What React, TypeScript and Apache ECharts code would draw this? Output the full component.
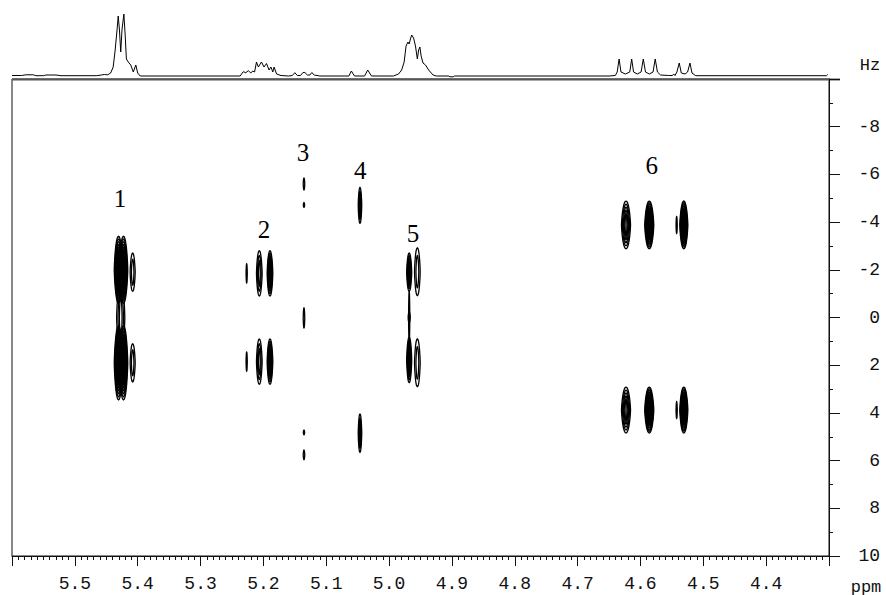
import React, { useEffect, useRef } from "react";
import * as echarts from "echarts";

// ---- axis ranges (ppm descending left→right, Hz -10 at top) ----
const PPM_MIN = 4.3;
const PPM_MAX = 5.6;
const HZ_MIN = -10;
const HZ_MAX = 10;

// ---- 1D projection spectrum on top: [ppm, intensity] ----
const spectrumPoints: [number, number][] = [
  [5.6, 0.5], [5.585, 0.5], [5.578, 1.2], [5.566, 1.2], [5.562, 0.3], [5.55, 0.3],
  [5.546, 1.0], [5.53, 1.0], [5.522, 0.3], [5.465, 0.3], [5.458, 1.0], [5.453, 1.5],
  [5.448, 1.2], [5.443, 3], [5.439, 9], [5.436, 25], [5.433, 45], [5.431, 60],
  [5.429, 46], [5.427, 24], [5.425, 46], [5.422, 62], [5.42, 42], [5.418, 17],
  [5.415, 14], [5.411, 11], [5.407, 4], [5.403, 11], [5.4, 3], [5.396, 0],
  [5.237, 0], [5.232, 4.3], [5.228, 3.3], [5.224, 5.3], [5.22, 3], [5.217, 5],
  [5.214, 4], [5.211, 14], [5.208, 9], [5.203, 14], [5.199, 9], [5.195, 12.5],
  [5.191, 6], [5.188, 9], [5.185, 4], [5.183, 9], [5.179, 2], [5.172, 0.5],
  [5.16, 0], [5.154, 0.5], [5.15, 3.3], [5.146, 0.5], [5.141, 0.5], [5.137, 3.5],
  [5.134, 3.5], [5.13, 1], [5.126, 1], [5.123, 3.5], [5.119, 1], [5.11, 0],
  [5.064, 0], [5.06, 5], [5.055, 0], [5.039, 0], [5.034, 6], [5.028, 0],
  [4.993, 0], [4.985, 2], [4.98, 6], [4.976, 14], [4.973, 30], [4.97, 34],
  [4.968, 32], [4.966, 37], [4.964, 41], [4.961, 38], [4.958, 30], [4.955, 17],
  [4.953, 26], [4.951, 29], [4.949, 20], [4.946, 13], [4.942, 11], [4.937, 6],
  [4.93, 1], [4.925, 0], [4.905, 0], [4.903, -0.8], [4.898, -0.8], [4.896, 0],
  [4.65, 0], [4.64, 0.5], [4.637, 4], [4.634, 17], [4.631, 4], [4.624, 2],
  [4.617, 4], [4.614, 17], [4.611, 4], [4.605, 2], [4.599, 4], [4.5955, 17],
  [4.592, 4], [4.586, 2], [4.58, 4], [4.5765, 17], [4.573, 4], [4.568, 1],
  [4.555, 0.5], [4.549, 0.5], [4.547, 2], [4.545, 0.5], [4.542, 4], [4.5383, 13],
  [4.535, 3], [4.529, 2], [4.525, 4], [4.5212, 13], [4.518, 3], [4.512, 0.3],
  [4.304, 0.3], [4.302, 1.5],
];

// ---- 2D contour blobs: [ppm, Hz, halfWidthPpm, halfHeightHz, contourLevels] ----
const peak1Blobs = [
  [5.4305, -2.0, 0.0068, 1.4, 8],
  [5.4226, -2.0, 0.0068, 1.4, 8],
  [5.4305, 1.9, 0.0068, 1.55, 8],
  [5.4226, 1.9, 0.0068, 1.55, 8],
  [5.427, 0.0, 0.0065, 1.5, 3],
  [5.408, -1.9, 0.004, 0.8, 2],
  [5.408, 1.9, 0.004, 0.8, 2],
];
const peak2Blobs = [
  [5.2266, -1.85, 0.0008, 0.4, 1],
  [5.2065, -1.85, 0.0045, 0.95, 3],
  [5.1895, -1.85, 0.0045, 0.95, 6],
  [5.2266, 1.85, 0.0008, 0.4, 1],
  [5.2065, 1.85, 0.0045, 0.95, 3],
  [5.1895, 1.85, 0.0045, 0.95, 6],
];
const peak3Blobs = [
  [5.1354, -5.6, 0.0012, 0.25, 1],
  [5.1354, -4.72, 0.001, 0.1, 1],
  [5.1354, 0.02, 0.0012, 0.42, 1],
  [5.1354, 4.82, 0.001, 0.1, 1],
  [5.1354, 5.76, 0.0012, 0.2, 1],
];
const peak4Blobs = [
  [5.0463, -4.7, 0.0028, 0.75, 3],
  [5.0463, 4.85, 0.0028, 0.8, 3],
];
const peak5Blobs = [
  [4.968, -1.9, 0.004, 0.8, 5],
  [4.955, -1.92, 0.0045, 1.0, 2],
  [4.968, 1.78, 0.004, 0.95, 5],
  [4.955, 1.9, 0.0045, 1.0, 2],
  [4.968, 0.0, 0.0008, 1.1, 1],
  [4.968, 0.0, 0.0016, 0.22, 1],
];
const peak6Blobs = [
  [4.623, -3.88, 0.0072, 1.0, 5],
  [4.586, -3.88, 0.0072, 1.0, 9],
  [4.531, -3.88, 0.0064, 1.0, 9],
  [4.5424, -3.88, 0.0006, 0.35, 1],
  [4.623, 3.88, 0.0072, 0.96, 5],
  [4.586, 3.88, 0.0072, 0.96, 9],
  [4.531, 3.88, 0.0064, 0.96, 9],
  [4.5424, 3.88, 0.0006, 0.35, 1],
];

// ---- peak number labels: [ppm, Hz] ----
const peakLabels = ["1", "2", "3", "4", "5", "6"];
const peakLabelPpm = [5.428, 5.199, 5.137, 5.046, 4.962, 4.582];
const peakLabelHz = [-5.0, -3.67, -6.9, -6.18, -3.54, -6.39];

const MONO = '"Liberation Mono", "DejaVu Sans Mono", monospace';
const SERIF = '"Liberation Serif", "DejaVu Serif", serif';

// contour outline: superellipse with pointed tips
function contourPoints(cx: number, cy: number, rx: number, ry: number): number[][] {
  const pts: number[][] = [];
  const p = 1.35;
  const N = 40;
  for (let i = 0; i < N; i++) {
    const t = (i / N) * Math.PI * 2;
    const c = Math.cos(t);
    const s = Math.sin(t);
    const px = Math.sign(c) * Math.pow(Math.abs(c), 2 / 2.2) * rx;
    const py = Math.sign(s) * Math.pow(Math.abs(s), 2 / p) * ry;
    pts.push([cx + px, cy + py]);
  }
  return pts;
}

export default function App() {
  const ref = useRef<HTMLDivElement>(null);

  useEffect(() => {
    if (!ref.current) return;
    const chart = echarts.init(ref.current, undefined, { renderer: "svg" });

    const blobs = [
      ...peak1Blobs, ...peak2Blobs, ...peak3Blobs,
      ...peak4Blobs, ...peak5Blobs, ...peak6Blobs,
    ];
    const labelData = peakLabels.map((t, i) => [peakLabelPpm[i], peakLabelHz[i], t]);

    const option: any = {
      animation: false,
      backgroundColor: "#ffffff",
      grid: [
        {
          left: 12, right: 57, top: 79, bottom: 39,
          show: true, borderColor: "#111", borderWidth: 1, backgroundColor: "transparent",
        },
        { left: 12, right: 57, top: 6, height: 70 },
      ],
      xAxis: [
        {
          type: "value", gridIndex: 0, min: PPM_MIN, max: PPM_MAX, inverse: true,
          interval: 0.1,
          axisLine: { show: true, onZero: false, lineStyle: { color: "#111", width: 1 } },
          axisTick: { show: true, length: 10, lineStyle: { color: "#111" } },
          minorTick: { show: true, splitNumber: 10, length: 4, lineStyle: { color: "#111" } },
          splitLine: { show: false },
          axisLabel: {
            showMinLabel: false, showMaxLabel: false, margin: 19,
            fontFamily: MONO, fontSize: 18, color: "#111",
            formatter: (v: number) => v.toFixed(1),
          },
        },
        {
          type: "value", gridIndex: 1, min: PPM_MIN, max: PPM_MAX, inverse: true,
          show: false,
        },
      ],
      yAxis: [
        {
          type: "value", gridIndex: 0, min: HZ_MIN, max: HZ_MAX, inverse: true,
          interval: 2, position: "right",
          axisLine: { show: true, onZero: false, lineStyle: { color: "#111", width: 1 } },
          axisTick: { show: true, length: 11, lineStyle: { color: "#111" } },
          minorTick: { show: true, splitNumber: 2, length: 4, lineStyle: { color: "#111" } },
          splitLine: { show: false },
          axisLabel: {
            showMinLabel: false, margin: 51, align: "right",
            fontFamily: MONO, fontSize: 18, color: "#111",
          },
        },
        { type: "value", gridIndex: 1, min: 0, max: 70, show: false },
      ],
      graphic: [
        {
          type: "line", shape: { x1: 12, y1: 79.5, x2: 840, y2: 79.5 },
          style: { stroke: "#555", lineWidth: 2 },
        },
        {
          type: "text", x: 870, y: 65,
          style: { text: "Hz", font: `17px ${MONO}`, fill: "#111", align: "center", verticalAlign: "middle" },
        },
        {
          type: "text", x: 866, y: 587,
          style: { text: "ppm", font: `17px ${MONO}`, fill: "#111", align: "center", verticalAlign: "middle" },
        },
      ],
      series: [
        {
          type: "line", xAxisIndex: 1, yAxisIndex: 1,
          data: spectrumPoints, showSymbol: false, symbol: "none",
          lineStyle: { color: "#000", width: 1 }, silent: true, clip: false,
        },
        {
          type: "custom", xAxisIndex: 0, yAxisIndex: 0,
          data: blobs, encode: { x: 0, y: 1 }, silent: true,
          renderItem: (params: any, api: any) => {
            const c = api.coord([api.value(0), api.value(1)]);
            const sz = api.size([api.value(2), api.value(3)]);
            const rx = Math.abs(sz[0]);
            const ry = Math.abs(sz[1]);
            const n = api.value(4);
            const children: any[] = [];
            for (let k = 0; k < n; k++) {
              const s = 1 - k / n;
              children.push({
                type: "polygon",
                shape: {
                  points: contourPoints(
                    c[0], c[1],
                    Math.max(rx * s, 0.6),
                    Math.max(ry * (0.35 + 0.65 * s), 1),
                  ),
                },
                style: { fill: "none", stroke: "#000", lineWidth: 1.3 },
              });
            }
            return { type: "group", children };
          },
        },
        {
          type: "custom", xAxisIndex: 0, yAxisIndex: 0,
          data: labelData, encode: { x: 0, y: 1 }, silent: true,
          renderItem: (params: any, api: any) => {
            const c = api.coord([api.value(0), api.value(1)]);
            return {
              type: "text", x: c[0], y: c[1],
              style: {
                text: String(labelData[params.dataIndex][2]),
                font: `25px ${SERIF}`, fill: "#000", align: "center", verticalAlign: "middle",
              },
            };
          },
        },
      ],
    };

    chart.setOption(option);
    return () => chart.dispose();
  }, []);

  return (
    <div
      ref={ref}
      style={{ position: "absolute", left: 0, top: 0, width: 886, height: 595, background: "#fff" }}
    />
  );
}
